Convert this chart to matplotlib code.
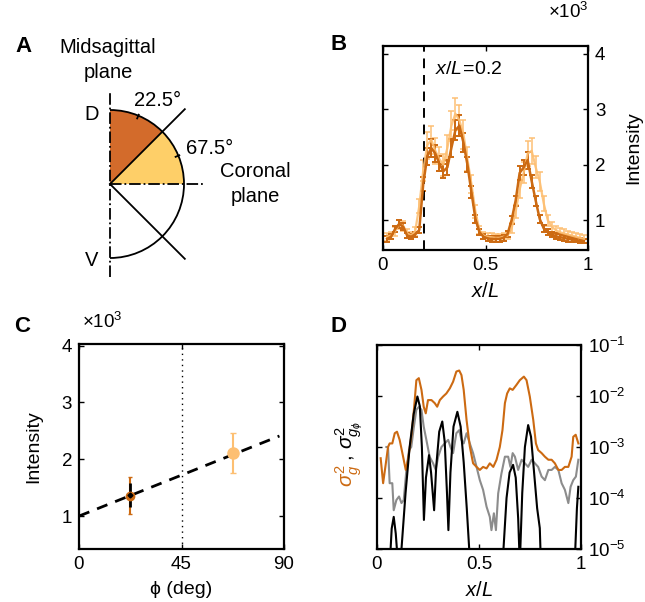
import numpy as np
import matplotlib
matplotlib.use('Agg')
import matplotlib.pyplot as plt
from matplotlib.patches import Wedge, Arc

plt.rcParams['font.family'] = ['Liberation Sans', 'DejaVu Sans']
plt.rcParams['mathtext.fontset'] = 'custom'
plt.rcParams['mathtext.rm'] = 'Liberation Sans'
plt.rcParams['mathtext.it'] = 'Liberation Sans:italic'
plt.rcParams['mathtext.bf'] = 'Liberation Sans:bold'
plt.rcParams['mathtext.fallback'] = 'stixsans'

DARK = '#cc6a12'
LIGHT = '#fdbf72'
FILL_DARK = '#d36b2b'
FILL_LIGHT = '#fecf68'

# ---- panel B: intensity profiles along x/L (in units of 10^3)
xb = np.linspace(0.02, 0.98, 50)
int_dark = [0.66, 0.70, 0.84, 0.93, 0.88, 0.72, 0.70, 0.74, 0.82, 1.65,
            2.15, 2.30, 2.20, 2.02, 1.88, 1.95, 2.30, 2.62, 2.70, 2.40,
            2.00, 1.50, 1.02, 0.78, 0.70, 0.67, 0.66, 0.66, 0.66, 0.68,
            0.75, 1.00, 1.35, 1.85, 1.95, 2.08, 1.70, 1.35, 1.02, 0.85,
            0.78, 0.74, 0.71, 0.69, 0.68, 0.66, 0.65, 0.64, 0.63, 0.62]
err_dark = [0.05, 0.05, 0.06, 0.07, 0.06, 0.05, 0.05, 0.05, 0.06, 0.12,
            0.15, 0.16, 0.15, 0.14, 0.13, 0.14, 0.16, 0.18, 0.19, 0.17,
            0.14, 0.11, 0.07, 0.05, 0.05, 0.05, 0.05, 0.05, 0.05, 0.05,
            0.05, 0.07, 0.09, 0.13, 0.14, 0.15, 0.12, 0.09, 0.07, 0.06,
            0.05, 0.05, 0.05, 0.05, 0.05, 0.05, 0.05, 0.04, 0.04, 0.04]
int_light = [0.70, 0.72, 0.80, 0.92, 0.90, 0.76, 0.72, 0.80, 1.25, 1.90,
             2.35, 2.45, 2.25, 2.10, 2.00, 2.30, 2.70, 2.92, 2.80, 2.55,
             2.10, 1.65, 1.15, 0.82, 0.72, 0.70, 0.69, 0.68, 0.68, 0.70,
             0.72, 0.85, 1.15, 1.55, 1.85, 2.20, 2.25, 1.95, 1.70, 1.30,
             1.00, 0.88, 0.82, 0.78, 0.76, 0.74, 0.72, 0.70, 0.68, 0.66]
err_light = [0.07, 0.07, 0.08, 0.09, 0.09, 0.08, 0.07, 0.08, 0.13, 0.19,
             0.24, 0.25, 0.23, 0.21, 0.20, 0.23, 0.27, 0.29, 0.28, 0.26,
             0.21, 0.17, 0.12, 0.08, 0.07, 0.07, 0.07, 0.07, 0.07, 0.07,
             0.07, 0.09, 0.12, 0.16, 0.19, 0.22, 0.23, 0.20, 0.17, 0.13,
             0.10, 0.09, 0.08, 0.08, 0.08, 0.07, 0.07, 0.07, 0.07, 0.07]
x_cut = 0.2

# ---- panel C: intensity vs angle
phi = [22.5, 67.5]
int_phi = [1.36, 2.11]
err_phi = [0.32, 0.36]
int_black = 1.37
err_black = 0.21
fit_phi = [0, 88]
fit_int = [1.0, 2.41]

# ---- panel D: variances (log10 values)
xo = [0.018, 0.030, 0.041, 0.054, 0.062, 0.075, 0.087, 0.098, 0.111, 0.128,
      0.141, 0.152, 0.168, 0.181, 0.193, 0.205, 0.218, 0.229, 0.239, 0.250,
      0.267, 0.283, 0.295, 0.308, 0.324, 0.340, 0.357, 0.373, 0.389, 0.403,
      0.414, 0.425, 0.439, 0.455, 0.471, 0.488, 0.504, 0.520, 0.537, 0.553,
      0.570, 0.586, 0.602, 0.615, 0.627, 0.638, 0.651, 0.665, 0.684, 0.700,
      0.720, 0.733, 0.749, 0.766, 0.779, 0.790, 0.807, 0.823, 0.840, 0.856,
      0.872, 0.889, 0.905, 0.921, 0.938, 0.954, 0.962, 0.974, 0.987]
lo = [-3.22, -3.71, -3.39, -3.00, -2.93, -2.93, -2.73, -2.70, -2.86, -3.19,
      -3.45, -3.25, -2.80, -2.27, -1.69, -1.65, -1.88, -2.21, -2.34, -2.08,
      -2.08, -2.14, -2.21, -2.08, -2.01, -1.95, -1.85, -1.72, -1.52, -1.50,
      -1.59, -1.88, -2.47, -2.99, -3.32, -3.39, -3.45, -3.39, -3.42, -3.32,
      -3.39, -3.25, -3.00, -2.67, -2.14, -1.95, -1.85, -1.88, -1.78, -1.69,
      -1.62, -1.69, -2.01, -2.47, -2.93, -3.06, -3.12, -3.19, -3.25, -3.25,
      -3.32, -3.45, -3.45, -3.39, -3.39, -3.19, -2.80, -2.76, -2.93]
xg = [0.046, 0.054, 0.062, 0.075, 0.082, 0.095, 0.108, 0.120, 0.131, 0.144,
      0.157, 0.168, 0.181, 0.193, 0.206, 0.218, 0.229, 0.242, 0.258, 0.275,
      0.288, 0.300, 0.316, 0.332, 0.349, 0.360, 0.373, 0.389, 0.403, 0.414,
      0.425, 0.439, 0.455, 0.471, 0.488, 0.504, 0.520, 0.537, 0.553, 0.561,
      0.573, 0.583, 0.594, 0.610, 0.627, 0.643, 0.654, 0.665, 0.676, 0.692,
      0.709, 0.725, 0.741, 0.758, 0.774, 0.790, 0.807, 0.823, 0.840, 0.856,
      0.872, 0.889, 0.905, 0.921, 0.938, 0.949, 0.962, 0.975, 0.987]
lg = [-3.00, -3.00, -3.71, -3.71, -4.24, -4.04, -3.97, -4.10, -4.04, -3.45,
      -3.06, -3.00, -2.60, -2.27, -2.21, -2.27, -2.60, -2.86, -3.19, -3.32,
      -3.45, -3.19, -3.00, -2.93, -2.86, -3.00, -3.12, -2.73, -2.67, -2.86,
      -2.93, -2.73, -2.93, -3.12, -3.39, -3.65, -3.84, -4.17, -4.37, -4.63,
      -4.30, -4.63, -3.91, -3.52, -3.19, -3.19, -3.39, -3.12, -3.19, -3.45,
      -3.25, -3.32, -3.39, -3.25, -3.32, -3.39, -3.58, -3.65, -3.45, -3.45,
      -3.39, -3.45, -3.71, -3.84, -4.10, -3.78, -3.65, -3.58, -3.25]
xk = [0.064, 0.072, 0.082, 0.092, 0.103, 0.110, 0.120, 0.140, 0.160, 0.180,
      0.198, 0.210, 0.220, 0.230, 0.240, 0.255, 0.265, 0.280, 0.290, 0.305,
      0.320, 0.332, 0.343, 0.350, 0.360, 0.375, 0.394, 0.410, 0.425, 0.440,
      0.455, 0.465, 0.600, 0.620, 0.635, 0.650, 0.667, 0.680, 0.692, 0.700,
      0.712, 0.725, 0.741, 0.755, 0.770, 0.785, 0.798, 0.805, 0.820, 0.960,
      0.972, 0.980, 0.987]
lk = [-5.2, -4.6, -4.37, -4.7, -5.3, -6.0, -5.0, -3.9, -3.0, -2.35,
      -2.01, -2.2, -3.0, -4.43, -3.6, -3.16, -3.5, -4.24, -3.4, -2.7,
      -2.50, -2.9, -3.9, -4.63, -3.5, -2.6, -2.31, -2.6, -3.3, -4.2,
      -5.2, -6.0, -6.0, -5.0, -4.0, -3.5, -3.35, -3.6, -4.4, -5.3,
      -3.9, -3.0, -2.57, -2.8, -3.5, -4.2, -4.59, -5.5, -6.0, -6.0,
      -5.0, -4.2, -3.78]

W, H = 645, 602
fig = plt.figure(figsize=(W / 100, H / 100), dpi=100)


def box(l, t, r, b):
    return [l / W, 1 - b / H, (r - l) / W, (b - t) / H]


def style(ax):
    for s in ax.spines.values():
        s.set_linewidth(1.6)
    ax.tick_params(which='both', direction='in', top=True, bottom=True,
                   left=True, right=True, length=3.5, width=1, labelsize=13.5,
                   pad=5)
    ax.minorticks_off()


# ---------------- A: schematic
axA = fig.add_axes([0, 0.5, 0.5, 0.5])
axA.set_xlim(0, W / 2)
axA.set_ylim(0, H / 2)
axA.axis('off')
cx, cy, r = 110, 301 - 184, 74
axA.add_patch(Wedge((cx, cy), r, 45, 90, facecolor=FILL_DARK, edgecolor='none'))
axA.add_patch(Wedge((cx, cy), r, 0, 45, facecolor=FILL_LIGHT, edgecolor='none'))
axA.add_patch(Arc((cx, cy), 2 * r, 2 * r, theta1=-90, theta2=90, color='k', lw=1.3))
axA.plot([cx, cx], [cy - 93, cy + 93], color='k', lw=1.3, ls='-.')
axA.plot([cx, cx + 95], [cy, cy], color='k', lw=1.3, ls='-.')
d = 1.43 * r / np.sqrt(2)
axA.plot([cx, cx + d], [cy, cy + d], color='k', lw=1.3)
axA.plot([cx, cx + d], [cy, cy - d], color='k', lw=1.3)
for ang in [67.5, 22.5]:
    t = np.deg2rad(ang)
    axA.plot([cx + (r - 3) * np.cos(t), cx + (r + 1) * np.cos(t)],
             [cy + (r - 3) * np.sin(t), cy + (r + 1) * np.sin(t)], color='k', lw=1.3)
txt = dict(fontsize=14.5, color='k')
axA.text(108, 301 - 60, 'Midsagittal\nplane', ha='center', va='center',
         linespacing=1.4, **txt)
axA.text(92, 301 - 114, 'D', ha='center', va='center', **txt)
axA.text(92, 301 - 260, 'V', ha='center', va='center', **txt)
axA.text(158, 301 - 100, '22.5°', ha='center', va='center', **txt)
axA.text(210, 301 - 149, '67.5°', ha='center', va='center', **txt)
axA.text(255, 301 - 184, 'Coronal\nplane', ha='center', va='center',
         linespacing=1.4, **txt)

# ---------------- B: profiles
axB = fig.add_axes(box(383, 46, 588, 250))
axB.errorbar(xb, int_light, yerr=err_light, color=LIGHT, lw=1.6, capsize=2,
             elinewidth=1.2, capthick=1.2, alpha=0.9)
axB.errorbar(xb, int_dark, yerr=err_dark, color=DARK, lw=1.8, capsize=2,
             elinewidth=1.4, capthick=1.4)
axB.axvline(x_cut, color='k', lw=1.4, ls=(0, (5, 3.5)))
axB.text(0.255, 3.72, r'$x/L\!=\!$0.2', fontsize=14, ha='left', va='center')
axB.set_xlim(0, 1)
axB.set_ylim(0.46, 4.14)
axB.set_xticks([0, 0.5, 1])
axB.set_xticklabels(['0', '0.5', '1'])
axB.set_yticks([1, 2, 3, 4])
style(axB)
axB.tick_params(labelleft=False, labelright=True)
axB.yaxis.set_label_position('right')
axB.set_ylabel('Intensity', fontsize=14, labelpad=14)
axB.set_xlabel(r'$x/L$', fontsize=14.5, labelpad=6)
fig.text(568 / W, 1 - 12 / H, r'$\times10^3$', fontsize=13.5, ha='center', va='center')

# ---------------- C: intensity vs phi
axC = fig.add_axes(box(79, 344, 284, 549))
axC.axvline(45, color='k', lw=1, ls=(0, (1, 3)))
axC.plot(fit_phi, fit_int, color='k', lw=2, ls=(0, (4, 3)))
axC.errorbar(phi[1], int_phi[1], yerr=err_phi[1], color=LIGHT, marker='o',
             ms=8, capsize=2, elinewidth=1.5)
axC.errorbar(phi[0], int_phi[0], yerr=err_phi[0], color=DARK, marker='o',
             ms=6, capsize=1.5, elinewidth=1.5)
axC.errorbar(phi[0], int_black, yerr=err_black, color='k', marker='D',
             ms=2.5, elinewidth=2)
axC.set_xlim(0, 90)
axC.set_ylim(0.42, 4.03)
axC.set_xticks([0, 45, 90])
axC.set_yticks([1, 2, 3, 4])
style(axC)
axC.set_ylabel('Intensity', fontsize=14, labelpad=14)
axC.set_xlabel('ϕ (deg)', fontsize=14, labelpad=6)
fig.text(102 / W, 1 - 322 / H, r'$\times10^3$', fontsize=13.5, ha='center', va='center')

# ---------------- D: variances
axD = fig.add_axes(box(377, 345, 581, 549))
axD.plot(xg, 10.0 ** np.array(lg), color='#8c8c8c', lw=1.5)
axD.plot(xo, 10.0 ** np.array(lo), color=DARK, lw=1.5)
axD.plot(xk, 10.0 ** np.array(lk), color='k', lw=1.5)
axD.set_yscale('log')
axD.set_xlim(0, 1)
axD.set_ylim(1e-5, 1e-1)
axD.set_xticks([0, 0.5, 1])
axD.set_xticklabels(['0', '0.5', '1'])
axD.set_yticks([1e-5, 1e-4, 1e-3, 1e-2, 1e-1])
axD.set_yticklabels([r'$10^{-5}$', r'$10^{-4}$', r'$10^{-3}$',
                     r'$10^{-2}$', r'$10^{-1}$'])
style(axD)
axD.tick_params(labelleft=False, labelright=True)
axD.set_xlabel(r'$x/L$', fontsize=14.5, labelpad=6)
fig.text(349 / W, 1 - 487 / H, r'$\sigma_g^2$', color=DARK, fontsize=15,
         rotation=90, ha='center', va='bottom')
fig.text(349 / W, 1 - 461 / H, r'$,\,\sigma_{g_\phi}^2$', color='k', fontsize=15,
         rotation=90, ha='center', va='bottom')

# panel letters
for lab, px, py in [('A', 23, 46), ('B', 339, 45), ('C', 22, 326), ('D', 339, 326)]:
    fig.text(px / W, 1 - py / H, lab, fontsize=16, fontweight='bold',
             ha='center', va='center')

fig.savefig('out.png', dpi=100)
